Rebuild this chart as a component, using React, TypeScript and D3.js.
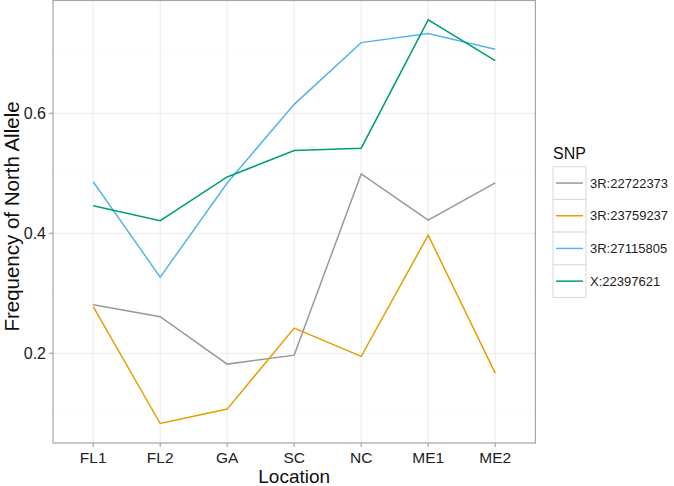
import React from "react";
import * as d3 from "d3";

const locations = ["FL1", "FL2", "GA", "SC", "NC", "ME1", "ME2"];
const snpNames = ["3R:22722373", "3R:23759237", "3R:27115805", "X:22397621"];
const snpColors = ["#999999", "#E69F00", "#56B4E9", "#009E73"];
const s3R22722373 = [0.281, 0.261, 0.182, 0.197, 0.499, 0.422, 0.484];
const s3R23759237 = [0.278, 0.083, 0.107, 0.242, 0.195, 0.397, 0.167];
const s3R27115805 = [0.486, 0.327, 0.484, 0.615, 0.718, 0.733, 0.707];
const sX22397621 = [0.446, 0.421, 0.494, 0.538, 0.542, 0.756, 0.688];
const yTicks = [0.2, 0.4, 0.6];
const yMinor = [0.1, 0.3, 0.5, 0.7];

const seriesValues = [s3R22722373, s3R23759237, s3R27115805, sX22397621];

export default function App() {
  const W = 674, H = 486;
  const left = 53, right = 535.4, top = 0, bottom = 443;
  const x = d3.scalePoint<string>().domain(locations).range([left, right]).padding(0.6);
  const y = d3.scaleLinear().domain([0.0505, 0.789]).range([bottom, top]);
  const line = d3.line<number>().x((_, i) => x(locations[i]) as number).y(d => y(d));
  const font = "'Liberation Sans', Arial, Helvetica, sans-serif";
  const keyX = 553, keyY = 166.7, keyW = 33, keyH = 32.7;
  return (
    <svg width={W} height={H} style={{ position: "absolute", left: 0, top: 0 }} fontFamily={font}>
      <rect x={0} y={0} width={W} height={H} fill="#fff" />
      {yMinor.map(t => (
        <line key={"m" + t} x1={left} x2={right} y1={y(t)} y2={y(t)} stroke="#fafafa" strokeWidth={0.8} />
      ))}
      {yTicks.map(t => (
        <line key={"g" + t} x1={left} x2={right} y1={y(t)} y2={y(t)} stroke="#ebebeb" strokeWidth={1} />
      ))}
      {locations.map(l => (
        <line key={"gx" + l} x1={x(l)} x2={x(l)} y1={top} y2={bottom} stroke="#ebebeb" strokeWidth={1} />
      ))}
      {seriesValues.map((vals, i) => (
        <path key={snpNames[i]} d={line(vals) as string} fill="none" stroke={snpColors[i]} strokeWidth={1.5} />
      ))}
      <rect x={left} y={top + 0.5} width={right - left} height={bottom - top - 0.5} fill="none" stroke="#a6a6a6" strokeWidth={1.2} />
      {yTicks.map(t => (
        <g key={"yt" + t}>
          <line x1={left - 4} x2={left} y1={y(t)} y2={y(t)} stroke="#a6a6a6" strokeWidth={1.2} />
          <text x={left - 7} y={y(t)} dy="0.36em" textAnchor="end" fontSize={16} fill="#222">{t.toFixed(1)}</text>
        </g>
      ))}
      {locations.map(l => (
        <g key={"xt" + l}>
          <line x1={x(l)} x2={x(l)} y1={bottom} y2={bottom + 4} stroke="#a6a6a6" strokeWidth={1.2} />
          <text x={x(l)} y={bottom + 19.5} textAnchor="middle" fontSize={15.5} fill="#222">{l}</text>
        </g>
      ))}
      <text x={(left + right) / 2} y={483} textAnchor="middle" fontSize={19} fill="#111">Location</text>
      <text transform={`translate(12,${(top + bottom) / 2 - 5}) rotate(-90)`} dy="0.36em" textAnchor="middle" fontSize={20.5} fill="#111">Frequency of North Allele</text>
      <text x={keyX} y={159} fontSize={16} fill="#111">SNP</text>
      {snpNames.map((n, i) => (
        <g key={"lg" + n}>
          <rect x={keyX} y={keyY + i * keyH} width={keyW} height={keyH} fill="#fff" stroke="#d9d9d9" strokeWidth={1} />
          <line x1={keyX + 3} x2={keyX + keyW - 3} y1={keyY + i * keyH + keyH / 2} y2={keyY + i * keyH + keyH / 2} stroke={snpColors[i]} strokeWidth={1.5} />
          <text x={keyX + keyW + 4} y={keyY + i * keyH + keyH / 2} dy="0.36em" fontSize={13} fill="#222">{n}</text>
        </g>
      ))}
    </svg>
  );
}
